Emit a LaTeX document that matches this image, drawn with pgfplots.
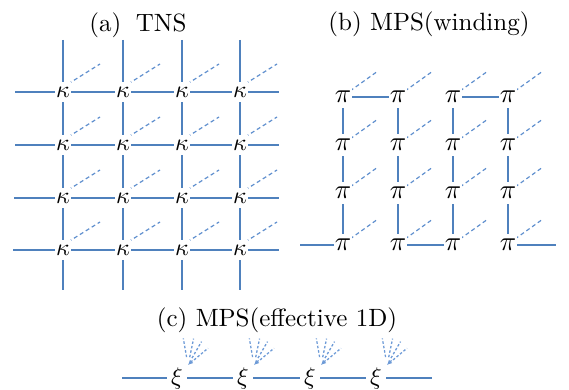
\documentclass[border=0pt]{standalone}
\usepackage{graphicx}
\usepackage{pgfplots}
\pgfplotsset{compat=1.18}
\usetikzlibrary{arrows.meta}
\definecolor{tnblue}{RGB}{79,129,189}
\definecolor{tndash}{RGB}{95,143,206}
\definecolor{tnfan}{RGB}{110,155,215}
\newcommand{\tK}{\scalebox{2.4}{$\kappa$}}
\newcommand{\tP}{\scalebox{2.7}{$\pi$}}
\newcommand{\tX}{\scalebox{2.4}{$\xi$}}
\begin{document}
\begin{tikzpicture}
\begin{axis}[scale only axis, width=569pt, height=387pt,
  xmin=0, xmax=569, ymin=0, ymax=387, y dir=reverse,
  hide axis, clip=false, unbounded coords=jump]
\path (rel axis cs:0,0) rectangle (rel axis cs:1,1);
% titles
\node at (axis cs:138,25) {\scalebox{2.5}{(a)\hspace{2.5pt} TNS}};
\node at (axis cs:429,24) {\scalebox{2.5}{(b) MPS(winding)}};
\node at (axis cs:277,320) {\scalebox{2.5}{(c) MPS(effective 1D)}};
% (a) TNS grid
\addplot[tnblue, line width=2.8pt] coordinates {
(15,92) (279,92) (nan,nan)
(15,145) (279,145) (nan,nan)
(14,198) (279,198) (nan,nan)
(13,250) (279,250) (nan,nan)
(63,40) (63,290) (nan,nan)
(123,40) (123,290) (nan,nan)
(182,40) (182,290) (nan,nan)
(240,40) (240,290)
};
\addplot[draw=none, mark=none, nodes near coords, point meta=explicit symbolic,
  nodes near coords align={center},
  every node near coord/.style={fill=white, inner sep=0pt, minimum width=16pt, minimum height=20pt, anchor=center}]
coordinates {
(63,92) [\tK] (123,92) [\tK] (182,92) [\tK] (240,92) [\tK]
(63,145) [\tK] (123,145) [\tK] (182,145) [\tK] (240,145) [\tK]
(63,198) [\tK] (123,198) [\tK] (182,198) [\tK] (240,198) [\tK]
(63,250) [\tK] (123,250) [\tK] (182,250) [\tK] (240,250) [\tK]
};
\addplot[tndash, line width=1.2pt, dash pattern=on 4pt off 3pt] coordinates {
(68,84) (100,64) (nan,nan) (128,84) (160,64) (nan,nan) (187,84) (219,64) (nan,nan) (245,84) (277,64) (nan,nan)
(68,137) (100,117) (nan,nan) (128,137) (160,117) (nan,nan) (187,137) (219,117) (nan,nan) (245,137) (277,117) (nan,nan)
(68,190) (100,170) (nan,nan) (128,190) (160,170) (nan,nan) (187,190) (219,170) (nan,nan) (245,190) (277,170) (nan,nan)
(68,242) (100,222) (nan,nan) (128,242) (160,222) (nan,nan) (187,242) (219,222) (nan,nan) (245,242) (277,222)
};
% (b) MPS winding
\addplot[tnblue, line width=2.8pt] coordinates {
(300,245) (343,245) (343,97) (398,97) (398,245) (453,245) (453,97) (508,97) (508,245) (556,245)
};
\addplot[draw=none, mark=none, nodes near coords, point meta=explicit symbolic,
  nodes near coords align={center},
  every node near coord/.style={fill=white, inner sep=0pt, minimum width=18pt, minimum height=22pt, anchor=center}]
coordinates {
(343,97) [\tP] (398,97) [\tP] (453,97) [\tP] (508,97) [\tP]
(343,145) [\tP] (398,145) [\tP] (453,145) [\tP] (508,145) [\tP]
(343,193) [\tP] (398,193) [\tP] (453,193) [\tP] (508,193) [\tP]
(343,245) [\tP] (398,245) [\tP] (453,245) [\tP] (508,245) [\tP]
};
\addplot[tndash, line width=1.2pt, dash pattern=on 4pt off 3pt] coordinates {
(350,91) (378,71) (nan,nan) (405,91) (433,71) (nan,nan) (460,91) (488,71) (nan,nan) (515,91) (543,71) (nan,nan)
(350,139) (378,119) (nan,nan) (405,139) (433,119) (nan,nan) (460,139) (488,119) (nan,nan) (515,139) (543,119) (nan,nan)
(350,187) (378,167) (nan,nan) (405,187) (433,167) (nan,nan) (460,187) (488,167) (nan,nan) (515,187) (543,167) (nan,nan)
(350,239) (378,219) (nan,nan) (405,239) (433,219) (nan,nan) (460,239) (488,219) (nan,nan) (515,239) (543,219)
};
% (c) effective 1D
\addplot[tnblue, line width=2.8pt] coordinates {(122,378) (432,378)};
\addplot[draw=none, mark=none, nodes near coords, point meta=explicit symbolic,
  nodes near coords align={center},
  every node near coord/.style={fill=white, inner sep=0pt, minimum width=20pt, minimum height=24pt, anchor=center}]
coordinates {
(177,378) [\tX] (243,378) [\tX] (310,378) [\tX] (376,378) [\tX]
};
\addplot[tnfan, line width=1.3pt, dash pattern=on 2.5pt off 2pt] coordinates {
(186.6,357.1) (183.3,338.4) (nan,nan) (189.7,357.2) (193.6,338.6) (nan,nan) (192,358.1) (201.5,341.6) (nan,nan) (194.1,359.9) (207.9,348.3) (nan,nan)
(252.6,357.1) (249.3,338.4) (nan,nan) (255.7,357.2) (259.6,338.6) (nan,nan) (258,358.1) (267.5,341.6) (nan,nan) (260.1,359.9) (273.9,348.3) (nan,nan)
(319.6,357.1) (316.3,338.4) (nan,nan) (322.7,357.2) (326.6,338.6) (nan,nan) (325,358.1) (334.5,341.6) (nan,nan) (327.1,359.9) (340.9,348.3) (nan,nan)
(385.6,357.1) (382.3,338.4) (nan,nan) (388.7,357.2) (392.6,338.6) (nan,nan) (391,358.1) (400.5,341.6) (nan,nan) (393.1,359.9) (406.9,348.3)
};
\addplot[tnfan, line width=1.3pt, -{Latex[length=5pt,width=5pt]}] coordinates {(192.5,360.5) (188,365)};
\addplot[tnfan, line width=1.3pt, -{Latex[length=5pt,width=5pt]}] coordinates {(258.5,360.5) (254,365)};
\addplot[tnfan, line width=1.3pt, -{Latex[length=5pt,width=5pt]}] coordinates {(325.5,360.5) (321,365)};
\addplot[tnfan, line width=1.3pt, -{Latex[length=5pt,width=5pt]}] coordinates {(391.5,360.5) (387,365)};
\end{axis}
\end{tikzpicture}
\end{document}
